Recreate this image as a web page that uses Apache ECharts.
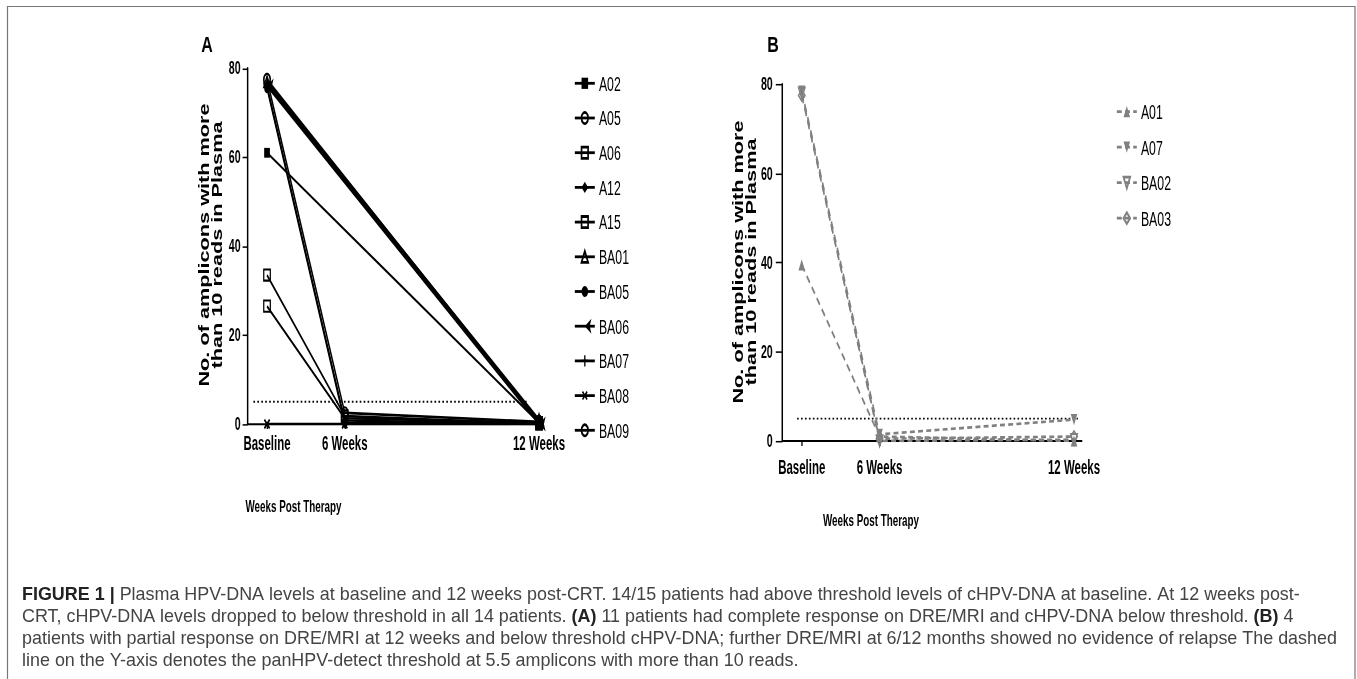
<!DOCTYPE html>
<html><head><meta charset="utf-8">
<script src="https://cdn.jsdelivr.net/npm/echarts@6/dist/echarts.min.js"></script>
<style>
html,body{margin:0;padding:0;background:#fff;width:1357px;height:679px;overflow:hidden}
#cap{position:absolute;left:0;top:0;width:1357px;height:679px}
#fig{position:absolute;left:0;top:0;transform-origin:0 0}
</style></head><body>
<div id="cap"></div><div id="fig"></div>
<script>
// ---------------- data ----------------
const timepoints = ['Baseline', '6 Weeks', '12 Weeks'];
const timeValues = [0, 2, 7];          // x value of each time point (spacing as drawn)
const yTicks = { min: 0, max: 80, interval: 20 };
const threshold = 5;
const thresholdSpanA = [-0.35, 6.7];
const thresholdSpanB = [-0.12, 7.1];

// Panel A (11 patients)
const namesA = ['A02','A05','A06','A12','A15','BA01','BA05','BA06','BA07','BA08','BA09'];
const A02  = [61,   null, 0.3];
const A05  = [77.5, null, 0.6];
const A06  = [33.5, 1.8,  0];
const A12  = [76,   0.8,  0];
const A15  = [26.5, 1.3,  0.3];
const BA01 = [77,   null, 1];
const BA05 = [75.5, 0.2,  0];
const BA06 = [76,   null, 0];
const BA07 = [76.5, null, 0.5];
const BA08 = [0,    0,    0];
const BA09 = [77.5, 2.5,  0.5];

// Panel B (4 patients)
const namesB = ['A01','A07','BA02','BA03'];
const A01  = [39.5, 1,   0];
const A07  = [78.5, 1.5, 4.8];
const BA02 = [78,   0,   0.3];
const BA03 = [77.5, 0.5, 1];

const captionLines = [
  '{b|FIGURE 1 |} Plasma HPV-DNA levels at baseline and 12 weeks post-CRT. 14/15 patients had above threshold levels of cHPV-DNA at baseline. At 12 weeks post-',
  'CRT, cHPV-DNA levels dropped to below threshold in all 14 patients. {b|(A)} 11 patients had complete response on DRE/MRI and cHPV-DNA below threshold. {b|(B)} 4',
  'patients with partial response on DRE/MRI at 12 weeks and below threshold cHPV-DNA; further DRE/MRI at 6/12 months showed no evidence of relapse The dashed',
  'line on the Y-axis denotes the panHPV-detect threshold at 5.5 amplicons with more than 10 reads.'
];

// ---------------- fonts / layout ----------------
const SANS = '"Liberation Sans", Arial, Helvetica, sans-serif';
// the figure block is drawn in its own frame and shown compressed horizontally, stretched vertically
const SX = 0.82, SY = 1.4;
const ux = x => x / SX;
const uy = y => y / SY;
const FIG_W = 1357 / SX, FIG_H = 400;
const figDiv = document.getElementById('fig');
figDiv.style.width = FIG_W + 'px';
figDiv.style.height = FIG_H + 'px';
figDiv.style.transform = 'scale(' + SX + ',' + SY + ')';

const SYM_PLUS = 'path://M4,0H6V4H10V6H6V10H4V6H0V4H4Z';

function pts(vals){ return vals.map((v, i) => [timeValues[i], v]); }

function xAxisOf(gi, max, margin){
  return {
    type: 'value', gridIndex: gi, min: -0.5, max: max,
    axisLine: { show: true, onZero: false, lineStyle: { color: '#000', width: 1.5 } },
    axisTick: { show: true, customValues: timeValues, length: 3.6, lineStyle: { color: '#000', width: 1.6 } },
    axisLabel: {
      customValues: timeValues, margin: margin, color: '#000',
      fontFamily: SANS, fontWeight: 'bold', fontSize: 14,
      formatter: v => { const i = timeValues.indexOf(v); return i >= 0 ? timepoints[i] : ''; }
    },
    splitLine: { show: false }
  };
}
function yAxisOf(gi, margin, tickLen){
  return {
    type: 'value', gridIndex: gi, min: yTicks.min, max: yTicks.max, interval: yTicks.interval,
    axisLine: { show: true, onZero: false, lineStyle: { color: '#000', width: 1.8 } },
    axisTick: { show: true, length: tickLen, lineStyle: { color: '#000', width: 1.1 } },
    axisLabel: { margin: margin, color: '#000', fontFamily: SANS, fontWeight: 'bold', fontSize: 13 },
    splitLine: { show: false }
  };
}

function seriesA(name, vals, sym, filled, size, rot){
  return {
    name, type: 'line', xAxisIndex: 0, yAxisIndex: 0, data: pts(vals), connectNulls: true,
    symbol: sym, symbolSize: size, symbolRotate: rot || 0, showSymbol: true,
    lineStyle: { color: '#000', width: 1.8 },
    itemStyle: { color: filled ? '#000' : 'rgba(255,255,255,0)', borderColor: '#000', borderWidth: filled ? 0 : 1.5 },
    emphasis: { disabled: true }, z: 3
  };
}
const GRAY = '#808080';
function seriesB(name, vals, sym, filled, size, rot, z){
  return {
    name, type: 'line', xAxisIndex: 1, yAxisIndex: 1, data: pts(vals), connectNulls: true,
    symbol: sym, symbolSize: size, symbolRotate: rot || 0, showSymbol: true,
    lineStyle: { color: GRAY, width: 1.9, type: [6, 4] },
    itemStyle: { color: filled ? GRAY : 'rgba(255,255,255,0)', borderColor: GRAY, borderWidth: filled ? 0 : 1.5 },
    emphasis: { disabled: true }, z: z || 3
  };
}
function thresholdSeries(xi, span){
  return {
    type: 'line', xAxisIndex: xi, yAxisIndex: xi, data: [[span[0], threshold], [span[1], threshold]],
    symbol: 'none', silent: true, z: 2,
    lineStyle: { color: '#000', width: 1.3, type: [2, 2.8] }
  };
}
const LEG_ITEM_H = 15;
function legendOf(names, left, firstCenter, step){
  return {
    orient: 'vertical', left: ux(left), top: uy(firstCenter) - LEG_ITEM_H / 2, padding: 0,
    itemWidth: ux(20), itemHeight: 10, itemGap: uy(step) - LEG_ITEM_H,
    data: names, selectedMode: false,
    textStyle: { fontFamily: SANS, fontSize: 15, color: '#000' }
  };
}
function yTitle(x, y){
  return { type: 'text', x: ux(x), y: uy(y), rotation: Math.PI / 2, scaleY: 1 / SX,
    style: { text: 'No. of amplicons with more\nthan 10 reads in Plasma', font: 'bold 15.5px ' + SANS,
      lineHeight: 13, fill: '#000', align: 'center', verticalAlign: 'middle' } };
}
function plainText(t, x, y, font, sx){
  return { type: 'text', x: ux(x), y: uy(y), scaleX: sx || 1,
    style: { text: t, font: font, fill: '#000', align: 'center', verticalAlign: 'middle' } };
}

const fig = echarts.init(figDiv, null, { renderer: 'svg' });
fig.setOption({
  animation: false,
  backgroundColor: 'transparent',
  textStyle: { fontFamily: SANS },
  grid: [
    { left: ux(247.6), top: uy(68.3), width: ux(295.3), height: uy(424) - uy(68.3), containLabel: false, outerBoundsMode: 'none' },
    { left: ux(782.3), top: uy(84.3), width: ux(299.5), height: uy(441) - uy(84.3), containLabel: false, outerBoundsMode: 'none' }
  ],
  xAxis: [ xAxisOf(0, 7.1, 6), xAxisOf(1, 7.2, 11) ],
  yAxis: [ yAxisOf(0, ux(7), ux(5)), yAxisOf(1, ux(9.5), ux(6.5)) ],
  legend: [ legendOf(namesA, 574, 83.3, 34.7), legendOf(namesB, 1116, 111.7, 35.5) ],
  series: [
    thresholdSeries(0, thresholdSpanA),
    thresholdSeries(1, thresholdSpanB),
    seriesA('A02',  A02,  'rect', true, 7),
    seriesA('A05',  A05,  'circle', false, 8),
    seriesA('A06',  A06,  'rect', false, 8),
    seriesA('A12',  A12,  'diamond', true, 8),
    seriesA('A15',  A15,  'rect', false, 8),
    seriesA('BA01', BA01, 'triangle', false, 8),
    seriesA('BA05', BA05, 'circle', true, 7),
    seriesA('BA06', BA06, 'arrow', true, 8, 90),
    seriesA('BA07', BA07, SYM_PLUS, true, 9),
    seriesA('BA08', BA08, SYM_PLUS, true, 9, 45),
    seriesA('BA09', BA09, 'circle', false, 8),
    seriesB('A01',  A01,  'triangle', true, 8),
    seriesB('A07',  A07,  'triangle', true, 8, 180, 5),
    seriesB('BA02', BA02, 'triangle', false, 8, 180),
    seriesB('BA03', BA03, 'diamond', false, 8)
  ],
  graphic: [
    plainText('A', 207, 44, 'bold 16px ' + SANS, 1 / SX),
    plainText('B', 773, 44, 'bold 16px ' + SANS, 1 / SX),
    yTitle(210, 245),
    yTitle(744.5, 262),
    plainText('Weeks Post Therapy', 293.5, 507, 'bold 12px ' + SANS),
    plainText('Weeks Post Therapy', 871, 521, 'bold 12px ' + SANS)
  ]
});

// ---------------- caption + frame ----------------
const mc = document.createElement('canvas').getContext('2d');
mc.font = '100px ' + SANS;
const capSize = 100 * 1316 / mc.measureText(captionLines[2]).width;
const cap = echarts.init(document.getElementById('cap'));
const capY = [595, 617, 639, 661];
cap.setOption({
  animation: false,
  graphic: [
    { type: 'rect', shape: { x: 7.5, y: 6.5, width: 1347.5, height: 700 }, style: { fill: 'none', stroke: '#777', lineWidth: 1.2 }, z: 0 },
    ...captionLines.map((t, i) => ({
      type: 'text', x: 22, y: capY[i],
      style: {
        text: t, fontFamily: SANS, fontSize: capSize, fill: '#444', align: 'left', verticalAlign: 'middle',
        rich: { b: { fontFamily: SANS, fontSize: capSize, fontWeight: 'bold', fill: '#222' } }
      }
    }))
  ]
});
</script></body></html>
